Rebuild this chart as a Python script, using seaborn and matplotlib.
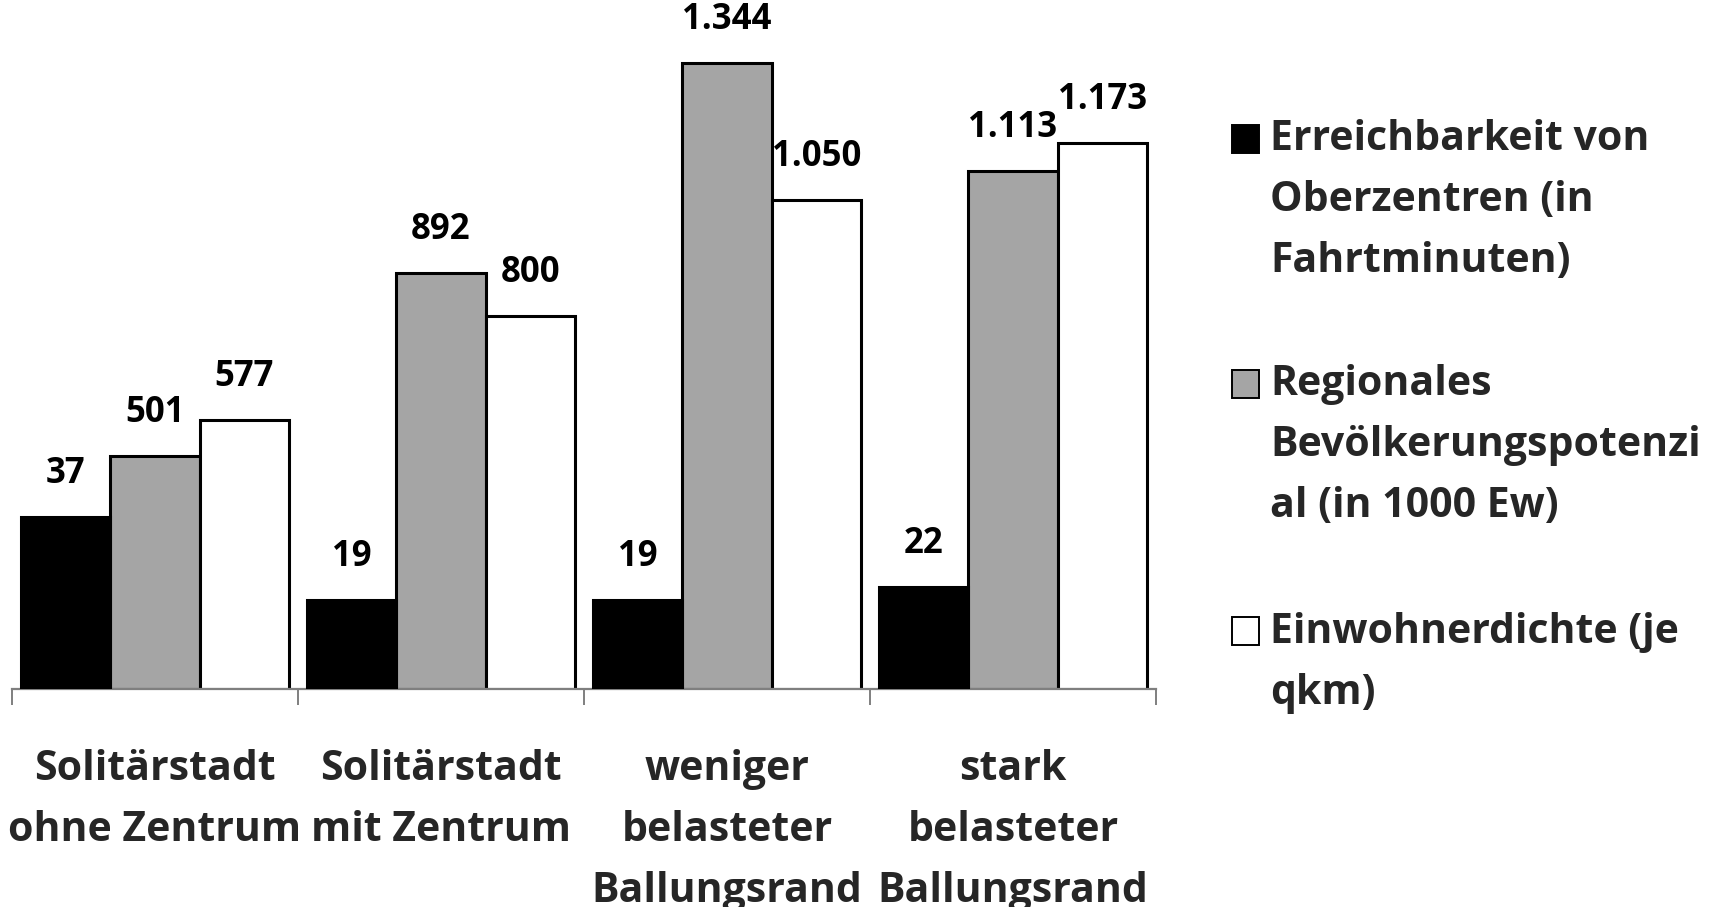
import matplotlib
matplotlib.use("Agg")
import matplotlib.pyplot as plt
from matplotlib.patches import Rectangle
import pandas as pd
import seaborn as sns

# data
categories = [
    "Solitärstadt\nohne Zentrum",
    "Solitärstadt\nmit Zentrum",
    "weniger\nbelasteter\nBallungsrand",
    "stark\nbelasteter\nBallungsrand",
]
series = [
    "Erreichbarkeit von\nOberzentren (in\nFahrtminuten)",
    "Regionales\nBevölkerungspotenzi\nal (in 1000 Ew)",
    "Einwohnerdichte (je\nqkm)",
]
erreichbarkeit = [37, 19, 19, 22]
potenzial = [501, 892, 1344, 1113]
dichte = [577, 800, 1050, 1173]
colors = ["#000000", "#a5a5a5", "#ffffff"]

palette = dict(zip(series, colors))
df_left = pd.DataFrame({
    "kategorie": categories * 2,
    "reihe": [series[1]] * 4 + [series[2]] * 4,
    "wert": potenzial + dichte,
})
df_right = pd.DataFrame({
    "kategorie": categories,
    "reihe": [series[0]] * 4,
    "wert": erreichbarkeit,
})

sns.set_style("white")
plt.rcParams["font.family"] = ["Open Sans", "DejaVu Sans"]

W, H = 1711, 907
LINE = 60  # px between text lines
fig = plt.figure(figsize=(W / 100, H / 100), dpi=100)
ax = fig.add_axes([12 / W, 1 - 689 / H, (1156 - 12) / W, 689 / H])
ax2 = ax.twinx()

bar_kw = dict(x="kategorie", y="wert", hue="reihe", hue_order=series,
              palette=palette, width=0.937, gap=0, dodge=True, errorbar=None,
              edgecolor="black", linewidth=2.2, legend=False, saturation=1)
sns.barplot(data=df_left, ax=ax, order=categories, **bar_kw)
sns.barplot(data=df_right, ax=ax2, order=categories, **bar_kw)

ymax = 1479
ax.set_ylim(0, ymax)
ax2.set_ylim(0, ymax / 10)
ax.set_xlim(-0.5, len(categories) - 0.5)


def fmt(v):
    return f"{v:,.0f}".replace(",", ".")


for a in (ax, ax2):
    for cont in a.containers:
        vals = cont.datavalues
        if len(vals) == 0:
            continue
        a.bar_label(cont, labels=[fmt(v) if v == v else "" for v in vals],
                    padding=18, fontsize=25, fontweight="bold",
                    color="black")

# axis styling
for a in (ax, ax2):
    for s in ("left", "right", "top"):
        a.spines[s].set_visible(False)
    a.set_yticks([])
    a.set_ylabel("")
    a.set_xlabel("")
ax2.spines["bottom"].set_visible(False)
ax.spines["bottom"].set_color("#7f7f7f")
ax.spines["bottom"].set_linewidth(1.6)

ax.set_xticks([i - 0.5 for i in range(len(categories) + 1)])
ax.set_xticklabels([])
ax.set_xticks(range(len(categories)), minor=True)
ax.set_xticklabels(categories, minor=True, fontsize=29.5, fontweight="bold",
                   linespacing=1.65)
ax.tick_params(axis="x", which="major", direction="out", length=11.5,
               width=1.4, color="#7f7f7f", bottom=True)
ax.tick_params(axis="x", which="minor", length=0, pad=43, bottom=True)

# legend, square next to the first line of each entry
leg_baselines = [152, 397, 644]
for name, col, yb in zip(series, colors, leg_baselines):
    fig.patches.append(Rectangle((1232 / W, 1 - (yb + 1) / H), 27 / W, 28 / H,
                                 transform=fig.transFigure, facecolor=col,
                                 edgecolor="black", linewidth=1.4))
    n = name.count("\n")
    # baseline alignment of multi-line text anchors the last line
    fig.text(1270 / W, 1 - (yb + n * LINE) / H, name, fontsize=29.5,
             fontweight="bold", va="baseline", ha="left", linespacing=1.65)

fig.savefig("out.png", dpi=100)
plt.close(fig)
